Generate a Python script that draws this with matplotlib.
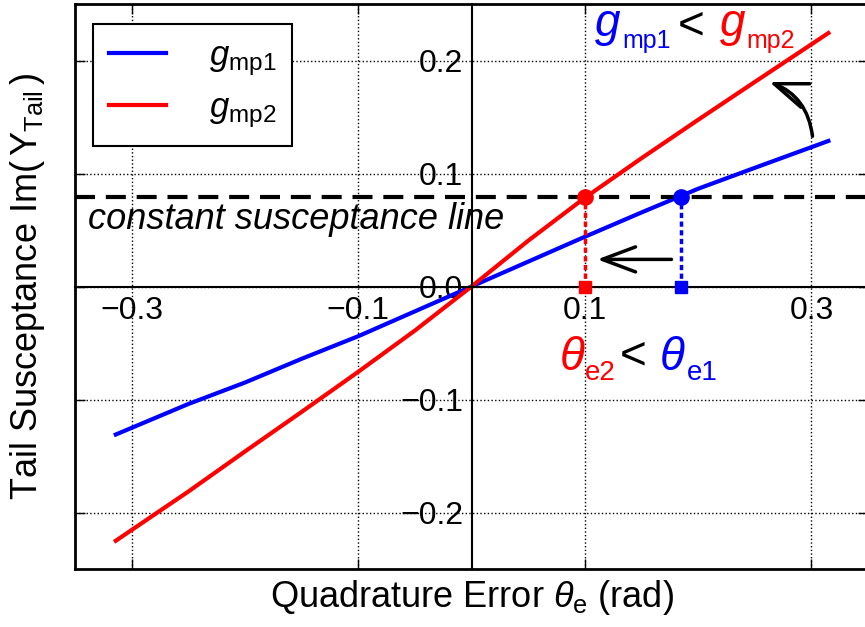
import matplotlib.pyplot as plt

plt.rcParams['font.family'] = ['Liberation Sans', 'DejaVu Sans']
plt.rcParams['mathtext.fontset'] = 'custom'
plt.rcParams['mathtext.rm'] = 'Liberation Sans'
plt.rcParams['mathtext.it'] = 'Liberation Sans:italic'
plt.rcParams['mathtext.bf'] = 'Liberation Sans:bold'

# quadrature error (rad) and tail susceptance
theta = [-0.314, -0.25, -0.2, -0.15, -0.1, -0.05, 0.0, 0.05, 0.1, 0.15, 0.2, 0.25, 0.315]
b_gmp1 = [-0.131, -0.104, -0.085, -0.064, -0.044, -0.022, 0.0, 0.022, 0.044, 0.0655, 0.0865, 0.105, 0.1288]
b_gmp2 = [-0.225, -0.1815, -0.146, -0.111, -0.0755, -0.039, 0.0, 0.0405, 0.0785, 0.1135, 0.1475, 0.181, 0.2243]

b_const = 0.0795     # constant susceptance line
theta_e2 = 0.1       # crossing of g_mp2
theta_e1 = 0.185     # crossing of g_mp1

xticks = [-0.3, -0.1, 0.1, 0.3]
yticks = [-0.2, -0.1, 0.0, 0.1, 0.2]

fig = plt.figure(figsize=(8.65, 6.27), dpi=100)
rect = [0.0867, 0.0925, 0.9168, 0.9011]
ax = fig.add_axes(rect)

ax.plot(theta, b_gmp1, color='blue', lw=3, label=r'$g_{\mathrm{mp1}}$')
ax.plot(theta, b_gmp2, color='red', lw=3, label=r'$g_{\mathrm{mp2}}$')
ax.axhline(b_const, color='black', lw=3, ls=(0, (4.8, 2.6)))

# drop lines from the crossings to the axis
ax.plot([theta_e2, theta_e2], [0, b_const], color='red', lw=2.5, ls=(0, (1.5, 1.0)))
ax.plot([theta_e1, theta_e1], [0, b_const], color='blue', lw=2.5, ls=(0, (1.5, 1.0)))
ax.plot([theta_e2], [b_const], 'o', color='red', ms=11, zorder=5)
ax.plot([theta_e1], [b_const], 'o', color='blue', ms=11, zorder=5)
ax.plot([theta_e2], [0], 's', color='red', ms=9, zorder=5)
ax.plot([theta_e1], [0], 's', color='blue', ms=9, zorder=5)

ax.set_xlim(-0.35, 0.35)
ax.set_ylim(-0.25, 0.25)
ax.set_xticks(xticks)
ax.set_yticks(yticks)
ax.grid(True, ls=':', color='black', lw=1)

ax.spines['left'].set_position('zero')
ax.spines['bottom'].set_position('zero')
ax.spines['left'].set_linewidth(1.5)
ax.spines['bottom'].set_linewidth(1.5)
ax.spines['top'].set_visible(False)
ax.spines['right'].set_visible(False)
ax.tick_params(length=0, labelsize=23)
ax.tick_params(axis='x', pad=7)
ax.tick_params(axis='y', pad=6)

ax.set_xlabel(r'Quadrature Error $\theta_{\mathrm{e}}$ (rad)', fontsize=26)
ax.set_ylabel(r'Tail Susceptance Im($\,\mathrm{Y}_{\mathrm{Tail}}\,$)', fontsize=26)
ax.xaxis.set_label_coords(0.5, -0.016)
ax.yaxis.set_label_coords(-0.035, 0.5)

# outer box with inward ticks
frame = fig.add_axes(rect, sharex=ax, sharey=ax, facecolor='none')
frame.tick_params(direction='in', length=7, width=1, top=True, right=True,
                  labelbottom=False, labelleft=False)
for s in frame.spines.values():
    s.set_linewidth(2)

leg = ax.legend(loc='upper left', bbox_to_anchor=(0.0227, 0.9646), borderaxespad=0,
                fancybox=False, edgecolor='black', framealpha=1, fontsize=25,
                handlelength=1.65, handletextpad=1.25, labelspacing=0.38, borderpad=0.45)
leg.get_frame().set_linewidth(1.5)

ax.text(-0.3385, 0.0507, 'constant susceptance line', fontsize=26, style='italic',
        ha='left', va='baseline')

big, small = 33, 18
# g_mp1 < g_mp2
ax.text(0.1086, 0.2213, 'g', color='blue', fontsize=big, style='italic', va='baseline')
ax.text(0.1333, 0.2107, 'mp1', color='blue', fontsize=small, va='baseline')
ax.text(0.1818, 0.2302, '<', color='black', fontsize=big, va='center')
ax.text(0.2189, 0.2213, 'g', color='red', fontsize=big, style='italic', va='baseline')
ax.text(0.2427, 0.2107, 'mp2', color='red', fontsize=small, va='baseline')

# theta_e2 < theta_e1
ax.text(0.0777, -0.0738, '\u03b8', color='red', fontsize=big, style='italic', va='baseline')
ax.text(0.0997, -0.0827, 'e2', color='red', fontsize=20, va='baseline')
ax.text(0.1306, -0.0622, '<', color='black', fontsize=big, va='center')
ax.text(0.1659, -0.0738, '\u03b8', color='blue', fontsize=big, style='italic', va='baseline')
ax.text(0.1898, -0.0827, 'e1', color='blue', fontsize=20, va='baseline')

head = '->,head_length=1.2,head_width=0.45'
ax.annotate('', xy=(0.111, 0.024), xytext=(0.1765, 0.024),
            arrowprops=dict(arrowstyle=head, lw=2.5, color='black', mutation_scale=20,
                            shrinkA=0, shrinkB=0))
ax.annotate('', xy=(0.263, 0.181), xytext=(0.301, 0.133),
            arrowprops=dict(arrowstyle=head, lw=2.5, color='black', mutation_scale=20,
                            shrinkA=0, shrinkB=0, connectionstyle='arc3,rad=0.3'))

fig.savefig('out.png', dpi=100)
